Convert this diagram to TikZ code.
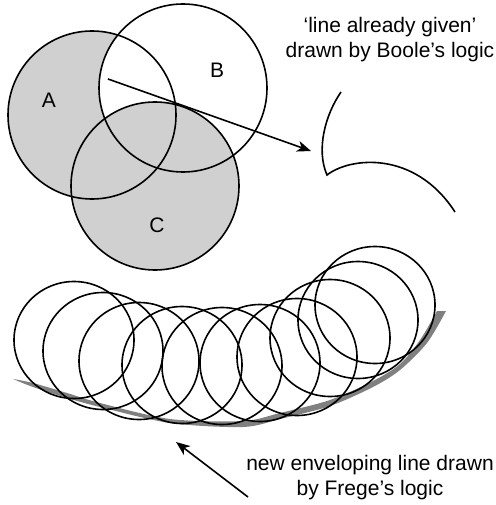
\documentclass[tikz,border=0pt]{standalone}
\usepackage{fontspec}
\setmainfont{Liberation Sans}
\usetikzlibrary{arrows.meta,positioning}

\definecolor{setgray}{RGB}{208,208,208}
\definecolor{shadowgray}{RGB}{128,128,128}

\tikzset{
  outline/.style={line width=1.6pt},
  pointer/.style={line width=1.6pt, -{Stealth[length=14pt, width=11pt, inset=4pt]}},
  caption/.style={align=center, inner sep=0pt, font=\fontsize{21}{25}\selectfont},
  setlabel/.style={inner sep=0pt, font=\fontsize{21}{25}\selectfont}
}

\begin{document}
\begin{tikzpicture}[x=1pt, y=-1pt]
    \useasboundingbox (0,0) rectangle (495,505);

    % Fill the sets
    \fill[setgray] (92,115) circle (84);
    \fill[white] (183,88) circle (84);
    \fill[setgray] (155,186) circle (84);

    % Draw set outlines
    \draw[outline] (92,115) circle (84);
    \draw[outline] (183,88) circle (84);
    \draw[outline] (155,186) circle (84);

    % Set labels
    \node[setlabel] (setA) at (49,100) {A};
    \node[setlabel] (setB) at (217,70) {B};
    \node[setlabel] (setC) at (157,225) {C};

    % Line already given
    \draw[outline] (341,92) .. controls (325,115) and (316,150) .. (327,175)
                            .. controls (350,157) and (415,150) .. (455,212);
    \node[caption, anchor=base] (boole) at (390,58)
      {‘line already given’\\drawn by Boole’s logic};

    % Arrow into the line
    \coordinate (boolestart) at (108,79);
    \coordinate (booletip) at (311,151);
    \draw[pointer] (boolestart) -- (booletip);

    % Shadow of the enveloping line
    \fill[shadowgray] plot[smooth] coordinates
        {(13,379) (33,387) (67,398) (100,407) (170,423) (243,427) (280,419)
         (330,406) (373,387) (400,370) (427,343) (446,311)}
      -- (437,311)
      -- plot[smooth] coordinates
        {(437,311) (420,340) (400,364) (373,381) (330,400) (280,413) (243,421)
         (170,419) (100,403) (67,393) (33,383) (13,379)}
      -- cycle;

    % Draw enveloping circles
    \foreach \cx/\cy in {74/340, 103/351, 139/361, 182/365, 222/366,
                         260/363, 297/357, 330/338, 358/320, 375/305}
      \draw[outline] (\cx,\cy) ellipse (60 and 58.5);

    % Arrow to the new line
    \coordinate (fregestart) at (248,497);
    \coordinate (fregetip) at (176,442);
    \draw[pointer] (fregestart) -- (fregetip);
    \node[caption, anchor=base] (frege) at (370,495)
      {new enveloping line drawn\\by Frege’s logic};

\end{tikzpicture}
\end{document}
